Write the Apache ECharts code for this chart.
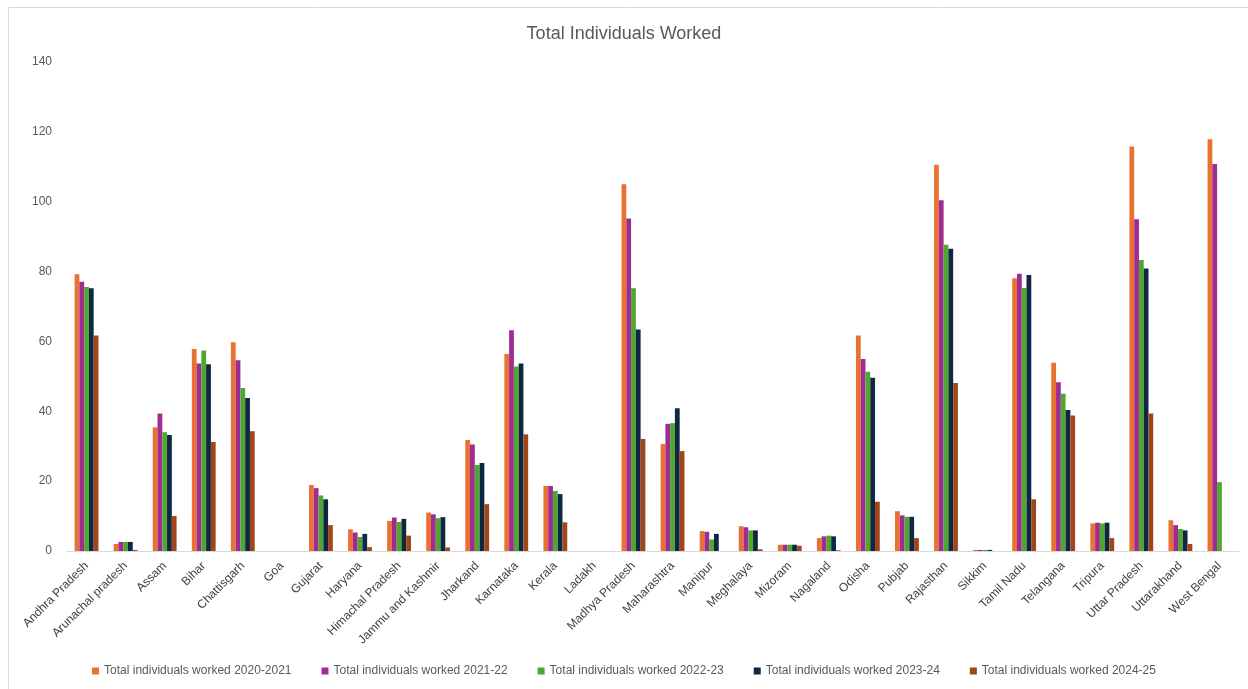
<!DOCTYPE html>
<html>
<head>
<meta charset="utf-8">
<title>Total Individuals Worked</title>
<script src="https://cdn.jsdelivr.net/npm/echarts@6/dist/echarts.min.js"></script>
<style>
  html, body { margin: 0; padding: 0; background: #fff; }
  #chart { width: 1248px; height: 689px; }
</style>
</head>
<body>
<div id="chart"></div>
<script>
// data
const states = ['Andhra Pradesh', 'Arunachal pradesh', 'Assam', 'Bihar', 'Chattisgarh', 'Goa', 'Gujarat',
    'Haryana', 'Himachal Pradesh', 'Jammu and Kashmir', 'Jharkand', 'Karnataka', 'Kerala', 'Ladakh',
    'Madhya Pradesh', 'Maharashtra', 'Manipur', 'Meghalaya', 'Mizoram', 'Nagaland', 'Odisha', 'Pubjab',
    'Rajasthan', 'Sikkim', 'Tamil Nadu', 'Telangana', 'Tripura', 'Uttar Pradesh', 'Uttarakhand', 'West Bengal'];

const worked2020 = [79.2, 2.0, 35.4, 57.8, 59.8, 0, 18.9, 6.2, 8.6, 11.0, 31.8, 56.4, 18.6, 0,
    105.0, 30.6, 5.7, 7.1, 1.8, 3.7, 61.7, 11.4, 110.6, 0.3, 78.1, 53.9, 7.9, 115.8, 8.8, 117.9];
const worked2021 = [77.1, 2.6, 39.4, 53.7, 54.6, 0, 18.0, 5.3, 9.6, 10.5, 30.5, 63.2, 18.6, 0,
    95.2, 36.4, 5.5, 6.8, 1.8, 4.2, 55.0, 10.2, 100.4, 0.3, 79.4, 48.3, 8.1, 95.0, 7.4, 110.8];
const worked2022 = [75.6, 2.6, 34.0, 57.4, 46.7, 0, 15.9, 4.0, 8.3, 9.4, 24.6, 52.8, 17.2, 0,
    75.2, 36.6, 3.3, 5.9, 1.8, 4.4, 51.3, 9.8, 87.7, 0.3, 75.3, 45.0, 7.9, 83.3, 6.3, 19.7];
const worked2023 = [75.2, 2.6, 33.2, 53.5, 43.8, 0, 14.8, 4.9, 9.2, 9.7, 25.2, 53.7, 16.3, 0,
    63.4, 40.9, 4.9, 5.9, 1.8, 4.2, 49.6, 9.8, 86.5, 0.3, 79.0, 40.4, 8.1, 80.9, 5.9, 0];
const worked2024 = [61.7, 0.3, 10.0, 31.2, 34.3, 0, 7.4, 1.1, 4.4, 1.0, 13.4, 33.4, 8.2, 0,
    32.1, 28.6, 0, 0.5, 1.5, 0.2, 14.1, 3.7, 48.1, 0, 14.8, 38.8, 3.7, 39.4, 2.0, 0];

const seriesNames = ['Total individuals worked 2020-2021', 'Total individuals worked 2021-22',
    'Total individuals worked 2022-23', 'Total individuals worked 2023-24', 'Total individuals worked 2024-25'];
const seriesData = [worked2020, worked2021, worked2022, worked2023, worked2024];
const colors = ['#E97132', '#A02B93', '#4EA72E', '#0E2841', '#A0461A'];

const font = 'Liberation Sans, Arial, sans-serif';

const chart = echarts.init(document.getElementById('chart'));
const option = {
    animation: false,
    color: colors,
    textStyle: { fontFamily: font },
    graphic: [{
        type: 'rect',
        shape: { x: 8.5, y: 7.5, width: 1300, height: 800 },
        style: { fill: 'none', stroke: '#d9d9d9', lineWidth: 1 },
        silent: true
    }],
    title: {
        text: 'Total Individuals Worked',
        left: 'center',
        top: 20,
        textStyle: { color: '#595959', fontSize: 18, fontWeight: 'normal', fontFamily: font }
    },
    legend: {
        bottom: 7,
        left: 'center',
        itemWidth: 7,
        itemHeight: 7,
        itemGap: 30,
        icon: 'rect',
        textStyle: { color: '#595959', fontSize: 12, fontFamily: font }
    },
    grid: { left: 67, right: 9, top: 62, bottom: 138, containLabel: false },
    xAxis: {
        type: 'category',
        data: states,
        axisLine: { lineStyle: { color: '#d9d9d9', width: 1 } },
        axisTick: { show: false },
        axisLabel: { rotate: 45, interval: 0, color: '#404040', fontSize: 12, margin: 13, fontFamily: font }
    },
    yAxis: {
        type: 'value',
        min: 0,
        max: 140,
        interval: 20,
        splitLine: { show: false },
        axisLine: { show: false },
        axisTick: { show: false },
        axisLabel: { color: '#595959', fontSize: 12, margin: 15, fontFamily: font }
    },
    series: seriesData.map((values, i) => ({
        name: seriesNames[i],
        type: 'bar',
        data: values,
        barGap: '0%',
        barCategoryGap: '39%',
        itemStyle: { color: colors[i] }
    }))
};
chart.setOption(option);
</script>
</body>
</html>
